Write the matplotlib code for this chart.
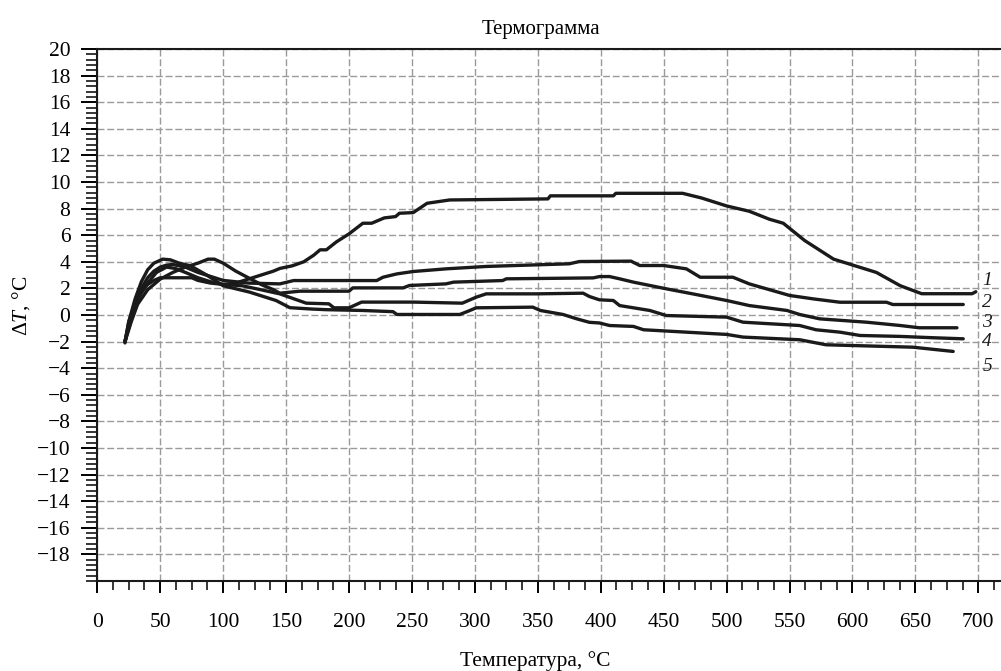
import matplotlib
matplotlib.use("Agg")
import matplotlib.pyplot as plt
from matplotlib.ticker import MultipleLocator

plt.rcParams['font.family'] = ['Liberation Serif', 'DejaVu Serif']
plt.rcParams['mathtext.fontset'] = 'custom'
plt.rcParams['mathtext.rm'] = 'Liberation Serif'
plt.rcParams['mathtext.it'] = 'Liberation Serif:italic'

title = "Термограмма"
xlabel = "Температура, °C"
ylabel = r"$\Delta\mathit{T}$, °C"
curve_labels = ["1", "2", "3", "4", "5"]
label_y = [2.6, 0.95, -0.6, -2.0, -3.9]

t1 = [22, 25, 30, 35, 40, 45, 50, 60, 75, 80, 90, 100, 110, 120, 130, 140, 145, 155, 164, 172, 177, 182, 190,
      200, 211, 218, 228, 237, 240, 251, 262, 280, 358, 360, 410, 412, 465, 480, 500, 518, 534, 545, 562, 585,
      602, 619, 638, 655, 695, 698]
d1 = [-2.0, -0.5, 0.8, 1.7, 2.3, 2.6, 2.8, 2.8, 2.8, 2.6, 2.4, 2.3, 2.4, 2.7, 3.0, 3.3, 3.5, 3.7, 4.0, 4.5, 4.9,
      4.9, 5.5, 6.1, 6.9, 6.9, 7.3, 7.4, 7.65, 7.7, 8.4, 8.65, 8.73, 8.96, 8.96, 9.15, 9.15, 8.8, 8.2, 7.8, 7.2,
      6.9, 5.6, 4.2, 3.7, 3.2, 2.2, 1.6, 1.6, 1.75]

t2 = [22, 26, 30, 35, 40, 45, 50, 55, 60, 70, 80, 90, 100, 120, 145, 156, 222, 227, 238, 251, 277, 309, 375,
      383, 424, 431, 450, 468, 479, 505, 518, 550, 569, 590, 627, 632, 688]
d2 = [-2.0, -0.3, 1.0, 2.0, 2.8, 3.3, 3.6, 3.75, 3.8, 3.6, 3.2, 2.9, 2.6, 2.4, 2.34, 2.59, 2.59, 2.84, 3.09,
      3.27, 3.47, 3.65, 3.85, 4.02, 4.05, 3.72, 3.72, 3.47, 2.84, 2.84, 2.34, 1.47, 1.21, 0.96, 0.96, 0.79, 0.79]

t3 = [22, 27, 32, 40, 50, 60, 70, 80, 88, 93, 100, 110, 120, 130, 140, 145, 161, 200, 203, 243, 248, 277,
      283, 322, 325, 394, 399, 407, 415, 426, 452, 473, 500, 518, 548, 558, 574, 611, 638, 653, 683]
d3 = [-2.0, -0.5, 0.8, 1.9, 2.7, 3.2, 3.6, 3.9, 4.2, 4.2, 3.9, 3.3, 2.8, 2.3, 1.9, 1.64, 1.79, 1.79, 2.04,
      2.04, 2.22, 2.34, 2.47, 2.59, 2.72, 2.79, 2.89, 2.89, 2.72, 2.47, 1.97, 1.59, 1.09, 0.71, 0.34, 0.04,
      -0.29, -0.54, -0.79, -0.96, -0.96]

t4 = [22, 27, 32, 40, 47, 55, 62, 70, 80, 90, 100, 115, 130, 145, 166, 184, 188, 200, 210, 251, 290, 301,
      309, 349, 386, 391, 399, 410, 415, 439, 452, 500, 513, 558, 571, 590, 606, 638, 664, 688]
d4 = [-2.0, -0.3, 1.2, 2.4, 3.2, 3.6, 3.5, 3.2, 2.8, 2.5, 2.3, 2.2, 1.9, 1.59, 0.89, 0.84, 0.54, 0.54, 0.97,
      0.97, 0.89, 1.34, 1.59, 1.59, 1.64, 1.39, 1.14, 1.09, 0.71, 0.34, -0.04, -0.16, -0.54, -0.79, -1.11,
      -1.29, -1.54, -1.61, -1.71, -1.79]

t5 = [22, 25, 30, 35, 40, 45, 52, 58, 65, 74, 87, 100, 121, 142, 153, 170, 182, 211, 235, 238, 288, 295, 301,
      346, 352, 370, 381, 391, 399, 407, 426, 434, 468, 500, 513, 558, 579, 648, 680]
d5 = [-2.1, -0.5, 1.2, 2.5, 3.4, 3.9, 4.2, 4.15, 3.9, 3.7, 3.0, 2.2, 1.72, 1.09, 0.55, 0.45, 0.4, 0.34, 0.25,
      0.04, 0.04, 0.3, 0.54, 0.59, 0.34, 0.04, -0.29, -0.55, -0.6, -0.79, -0.86, -1.11, -1.29, -1.46, -1.66,
      -1.86, -2.24, -2.42, -2.74]

series = [(t1, d1), (t2, d2), (t3, d3), (t4, d4), (t5, d5)]

fig = plt.figure(figsize=(10.01, 6.71), dpi=100)
ax = fig.add_axes([97.3 / 1001, 90 / 671, 1 - 97.3 / 1001, 532 / 671])

for t, d in series:
    ax.plot(t, d, color='#1a1a1a', lw=2.4, solid_joinstyle='round', solid_capstyle='round', zorder=3)

for lab, ly in zip(curve_labels, label_y):
    ax.text(707, ly, lab, fontsize=14, style='italic', ha='center', va='center', color='#1a1a1a')

ax.set_xlim(0, 718)
ax.set_ylim(-20, 20)
ax.xaxis.set_minor_locator(MultipleLocator(12.5))
ax.yaxis.set_minor_locator(MultipleLocator(0.4))

yt = [v for v in range(-18, 21, 2)]
ax.set_yticks(yt)
ax.set_yticklabels([str(v).replace('-', '\u2212') for v in yt])
xt = list(range(0, 701, 50))
ax.set_xticks(xt)
ax.set_xticklabels([str(v) for v in xt])

ax.tick_params(axis='y', which='major', length=11.3, width=1.4, pad=8, labelsize=15.5, direction='out')
ax.tick_params(axis='y', which='minor', length=8.1, width=1.1, direction='out')
ax.tick_params(axis='x', which='major', length=8.7, width=1.4, pad=14, labelsize=15.5, direction='out')
ax.tick_params(axis='x', which='minor', length=6.5, width=1.1, direction='out')

ax.grid(True, which='major', color='#9a9a9a', linestyle=(0, (5, 2)), linewidth=1.0, zorder=1)
ax.set_axisbelow(True)

for s in ['left', 'bottom', 'top']:
    ax.spines[s].set_linewidth(1.5)
    ax.spines[s].set_color('#1a1a1a')
ax.spines['right'].set_visible(False)

ax.set_title(title, fontsize=15, pad=11, x=(541 - 97.3) / 903.7)
ax.set_xlabel(xlabel, fontsize=15.5)
ax.xaxis.set_label_coords((535 - 97.3) / 903.7, -0.132)
ax.set_ylabel(ylabel, fontsize=15.5)
ax.yaxis.set_label_coords(-0.072, 0.517)

fig.savefig("out.png", dpi=100)
